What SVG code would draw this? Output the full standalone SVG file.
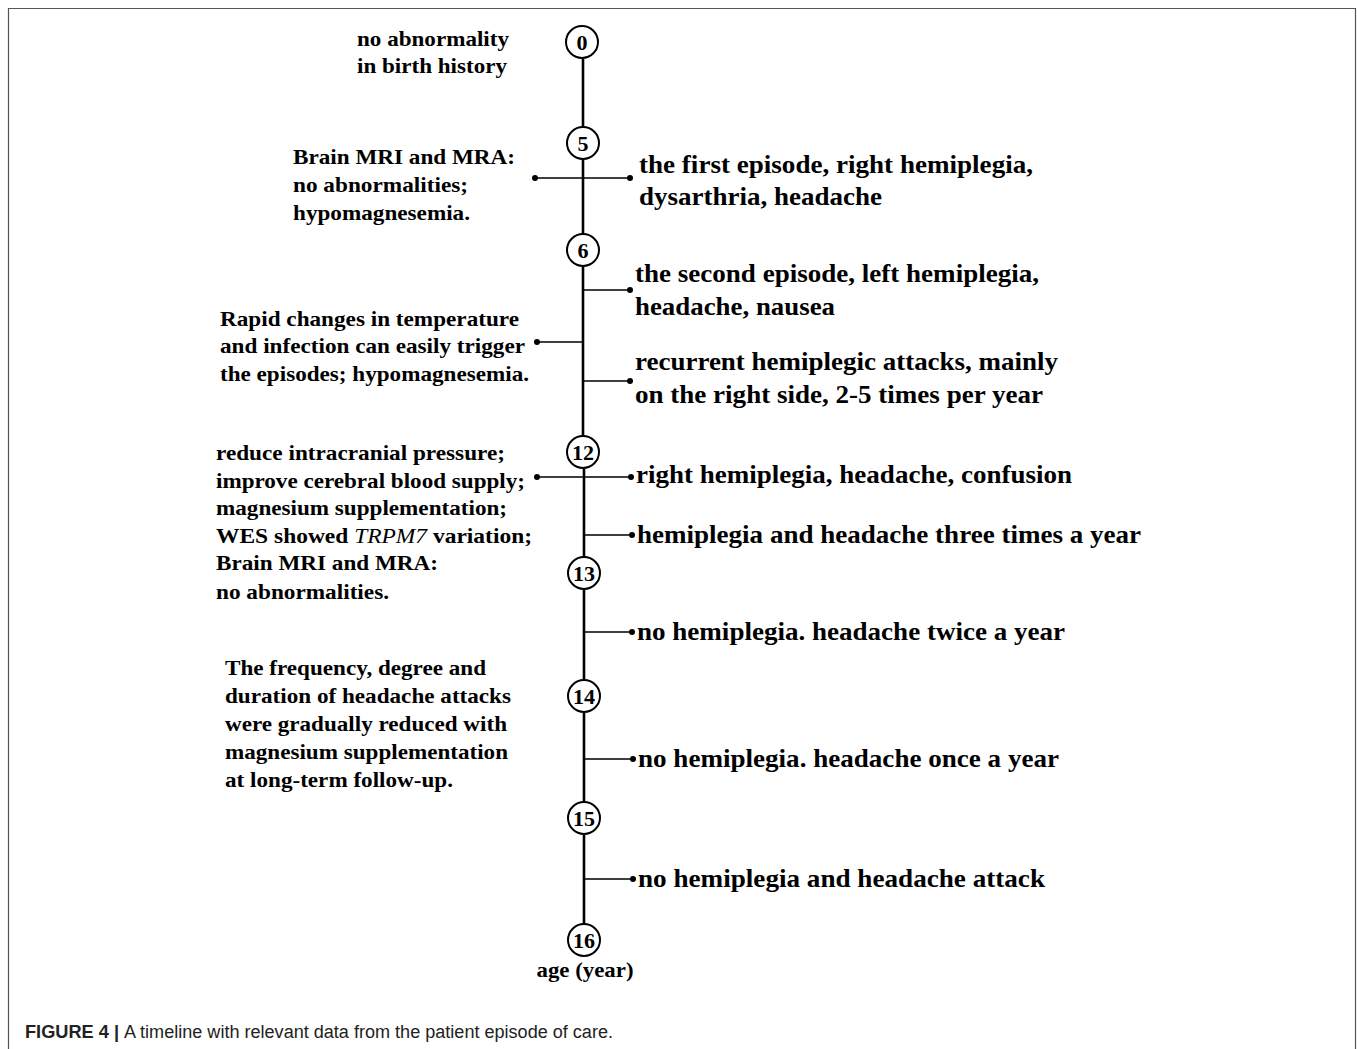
<svg xmlns="http://www.w3.org/2000/svg" width="1357" height="1049" viewBox="0 0 1357 1049">
<style>
.frame{fill:#fff;stroke:#555;stroke-width:1.2}
.axis{stroke:#000;stroke-width:2.6;fill:none}
.br{stroke:#000;stroke-width:1.6;fill:none}
.dot{fill:#000}
.yr{fill:#fff;stroke:#000;stroke-width:2}
.yt{font-family:"Liberation Serif","Times New Roman",serif;font-weight:bold;font-size:22px;fill:#000;text-anchor:middle}
.lt{font-family:"Liberation Serif","Times New Roman",serif;font-weight:bold;font-size:22px;fill:#000}
.rt{font-family:"Liberation Serif","Times New Roman",serif;font-weight:bold;font-size:26px;fill:#000}
.cap{font-family:"Liberation Sans",Arial,sans-serif;font-size:18px;fill:#222}
</style>
<rect x="0" y="0" width="1357" height="1049" fill="#fff"/>
<path class="frame" d="M8.5,1049 V8.5 H1355.5 V1049"/>
<g id="connectors">
<path class="axis" d="M583,59 V127 M583,160 V234 M583,267 V436 M584,469 V557 M584,590 V680 M584,713 V802 M584,835 V924"/>
<path class="br" d="M535,178 H630 M583,290 H630 M537,342 H583 M583,381 H630 M537,477 H630 M584,535 H632 M584,632 H632 M584,759 H633 M584,879 H633"/>
<circle class="dot" cx="535" cy="178" r="3"/><circle class="dot" cx="630" cy="178" r="3"/>
<circle class="dot" cx="630" cy="290" r="3"/>
<circle class="dot" cx="537" cy="342" r="3"/>
<circle class="dot" cx="630" cy="381" r="3"/>
<circle class="dot" cx="537" cy="477" r="3"/><circle class="dot" cx="631" cy="477" r="3"/>
<circle class="dot" cx="632" cy="535" r="3"/>
<circle class="dot" cx="632" cy="632" r="3"/>
<circle class="dot" cx="633" cy="759" r="3"/>
<circle class="dot" cx="633" cy="879" r="3"/>
</g>
<g id="age0"><circle class="yr" cx="582" cy="42" r="16"/><text class="yt" x="582" y="50">0</text></g>
<g id="age5"><circle class="yr" cx="583" cy="143" r="16"/><text class="yt" x="583" y="151">5</text></g>
<g id="age6"><circle class="yr" cx="583" cy="250" r="16"/><text class="yt" x="583" y="258">6</text></g>
<g id="age12"><circle class="yr" cx="583" cy="452" r="16"/><text class="yt" x="583" y="460">12</text></g>
<g id="age13"><circle class="yr" cx="584" cy="573" r="16"/><text class="yt" x="584" y="581">13</text></g>
<g id="age14"><circle class="yr" cx="584" cy="696" r="16"/><text class="yt" x="584" y="704">14</text></g>
<g id="age15"><circle class="yr" cx="584" cy="818" r="16"/><text class="yt" x="584" y="826">15</text></g>
<g id="age16"><circle class="yr" cx="584" cy="940" r="16"/><text class="yt" x="584" y="948">16</text></g>
<g id="axis-label"><text class="yt" x="585" y="977" textLength="97" lengthAdjust="spacingAndGlyphs">age (year)</text></g>
<g id="note-birth">
<text class="lt" x="357" y="46" textLength="152" lengthAdjust="spacingAndGlyphs">no abnormality</text>
<text class="lt" x="357" y="73" textLength="150" lengthAdjust="spacingAndGlyphs">in birth history</text>
</g>
<g id="note-5">
<text class="lt" x="293" y="164" textLength="222" lengthAdjust="spacingAndGlyphs">Brain MRI and MRA:</text>
<text class="lt" x="293" y="192" textLength="175" lengthAdjust="spacingAndGlyphs">no abnormalities;</text>
<text class="lt" x="293" y="220" textLength="177" lengthAdjust="spacingAndGlyphs">hypomagnesemia.</text>
</g>
<g id="note-6">
<text class="lt" x="220" y="326" textLength="299" lengthAdjust="spacingAndGlyphs">Rapid changes in temperature</text>
<text class="lt" x="220" y="353" textLength="305" lengthAdjust="spacingAndGlyphs">and infection can easily trigger</text>
<text class="lt" x="220" y="381" textLength="309" lengthAdjust="spacingAndGlyphs">the episodes; hypomagnesemia.</text>
</g>
<g id="note-12">
<text class="lt" x="216" y="460" textLength="289" lengthAdjust="spacingAndGlyphs">reduce intracranial pressure;</text>
<text class="lt" x="216" y="488" textLength="309" lengthAdjust="spacingAndGlyphs">improve cerebral blood supply;</text>
<text class="lt" x="216" y="515" textLength="291" lengthAdjust="spacingAndGlyphs">magnesium supplementation;</text>
<text class="lt" x="216" y="543" textLength="316" lengthAdjust="spacingAndGlyphs">WES showed <tspan font-style="italic" font-weight="normal">TRPM7</tspan> variation;</text>
<text class="lt" x="216" y="570" textLength="222" lengthAdjust="spacingAndGlyphs">Brain MRI and MRA:</text>
<text class="lt" x="216" y="599" textLength="173" lengthAdjust="spacingAndGlyphs">no abnormalities.</text>
</g>
<g id="note-14">
<text class="lt" x="225" y="675" textLength="261" lengthAdjust="spacingAndGlyphs">The frequency, degree and</text>
<text class="lt" x="225" y="703" textLength="286" lengthAdjust="spacingAndGlyphs">duration of headache attacks</text>
<text class="lt" x="225" y="731" textLength="282" lengthAdjust="spacingAndGlyphs">were gradually reduced with</text>
<text class="lt" x="225" y="759" textLength="283" lengthAdjust="spacingAndGlyphs">magnesium supplementation</text>
<text class="lt" x="225" y="787" textLength="228" lengthAdjust="spacingAndGlyphs">at long-term follow-up.</text>
</g>
<g id="event-first">
<text class="rt" x="639" y="173" textLength="394" lengthAdjust="spacingAndGlyphs">the first episode, right hemiplegia,</text>
<text class="rt" x="639" y="205" textLength="243" lengthAdjust="spacingAndGlyphs">dysarthria, headache</text>
</g>
<g id="event-second">
<text class="rt" x="635" y="282" textLength="404" lengthAdjust="spacingAndGlyphs">the second episode, left hemiplegia,</text>
<text class="rt" x="635" y="315" textLength="200" lengthAdjust="spacingAndGlyphs">headache, nausea</text>
</g>
<g id="event-recurrent">
<text class="rt" x="635" y="370" textLength="423" lengthAdjust="spacingAndGlyphs">recurrent hemiplegic attacks, mainly</text>
<text class="rt" x="635" y="403" textLength="408" lengthAdjust="spacingAndGlyphs">on the right side, 2-5 times per year</text>
</g>
<g id="event-12"><text class="rt" x="636" y="483" textLength="436" lengthAdjust="spacingAndGlyphs">right hemiplegia, headache, confusion</text></g>
<g id="event-12b"><text class="rt" x="637" y="543" textLength="504" lengthAdjust="spacingAndGlyphs">hemiplegia and headache three times a year</text></g>
<g id="event-13"><text class="rt" x="637" y="640" textLength="428" lengthAdjust="spacingAndGlyphs">no hemiplegia. headache twice a year</text></g>
<g id="event-14"><text class="rt" x="638" y="767" textLength="421" lengthAdjust="spacingAndGlyphs">no hemiplegia. headache once a year</text></g>
<g id="event-15"><text class="rt" x="638" y="887" textLength="407" lengthAdjust="spacingAndGlyphs">no hemiplegia and headache attack</text></g>
<g id="caption">
<text class="cap" x="25" y="1038"><tspan font-weight="bold" textLength="94" lengthAdjust="spacingAndGlyphs">FIGURE 4 |</tspan></text>
<text class="cap" x="124" y="1038" textLength="489" lengthAdjust="spacingAndGlyphs">A timeline with relevant data from the patient episode of care.</text>
</g>
</svg>
